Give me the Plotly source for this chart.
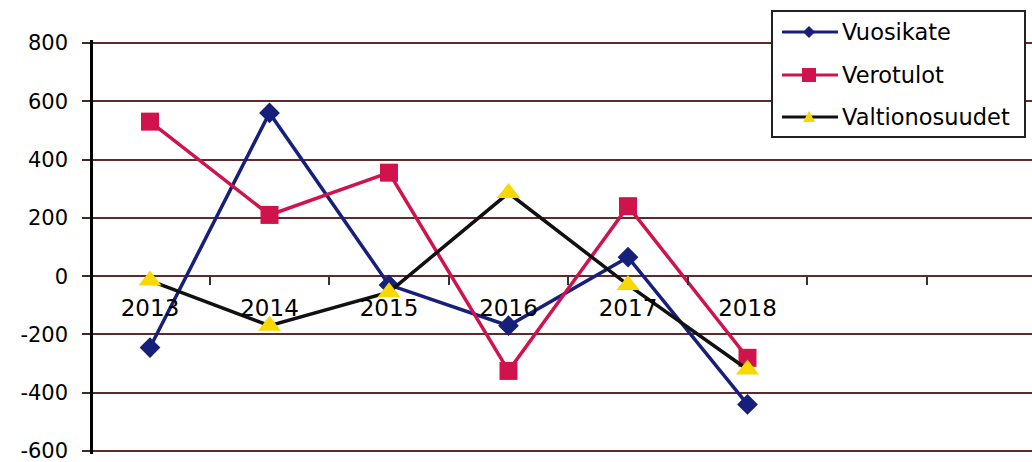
import plotly.graph_objects as go

years = [2013, 2014, 2015, 2016, 2017, 2018]
vuosikate = [-245, 560, -30, -170, 65, -440]
verotulot = [530, 210, 355, -325, 240, -280]
valtionosuudet = [-15, -170, -55, 285, -30, -320]

y_ticks = [-600, -400, -200, 0, 200, 400, 600, 800]
y_tick_text = ["-600", "-400", "-200", "0", "200", "400", "600", "800"]
boundaries = [y + 0.5 for y in range(2012, 2021)]

FONT = "DejaVu Sans, Liberation Sans, Arial, sans-serif"
GRID = "#5e2a2a"

BLUE = "#16207a"
RED = "#d0134c"
BLACK = "#111111"
YELLOW = "#f7d800"

# plot-area geometry in pixels
L, T, W, H = 93, 40, 939, 414
PX_PER_YEAR = 119.5
X0 = 2013 - 57 / PX_PER_YEAR
Y_RANGE = [-610, 810]


def px(x):
    return (x - L) / W


def py(y):
    return 1 - (y - T) / H


series = [
    ("Vuosikate", vuosikate, BLUE, "diamond", 16, BLUE),
    ("Verotulot", verotulot, RED, "square", 18, RED),
    ("Valtionosuudet", valtionosuudet, BLACK, "triangle-up", 20, YELLOW),
]

fig = go.Figure()
for name, vals, lc, sym, size, mc in series:
    fig.add_trace(go.Scatter(
        x=years, y=vals, name=name, mode="lines+markers",
        line=dict(color=lc, width=3.5),
        marker=dict(symbol=sym, size=size, color=mc),
    ))

# legend box drawn in paper space
shapes = [dict(
    type="rect", xref="paper", yref="paper", layer="above",
    x0=px(772), x1=px(1025), y0=py(11), y1=py(137),
    line=dict(color="#222222", width=2), fillcolor="white",
)]
annotations = []
legend_rows = [32, 75, 117]
for (name, vals, lc, sym, size, mc), ry in zip(series, legend_rows):
    shapes.append(dict(
        type="line", xref="paper", yref="paper", layer="above",
        x0=px(782), x1=px(838), y0=py(ry), y1=py(ry),
        line=dict(color=lc, width=3),
    ))
    if sym == "diamond":
        path = "M0,-6 L6,0 L0,6 L-6,0 Z"
    elif sym == "square":
        path = "M-7,-7 L7,-7 L7,7 L-7,7 Z"
    else:
        path = "M0,6 L6,-5 L-6,-5 Z"
    shapes.append(dict(
        type="path", xref="paper", yref="paper", layer="above",
        xsizemode="pixel", ysizemode="pixel",
        xanchor=px(809), yanchor=py(ry), path=path,
        fillcolor=mc, line=dict(color=mc, width=0),
    ))
    annotations.append(dict(
        xref="paper", yref="paper", x=px(840), y=py(ry),
        xanchor="left", yanchor="middle", showarrow=False,
        text=name, font=dict(family=FONT, size=22.5, color="black"),
    ))

fig.update_layout(
    width=1032, height=462,
    margin=dict(l=L, r=1032 - L - W, t=T, b=462 - T - H, autoexpand=False),
    paper_bgcolor="white", plot_bgcolor="white",
    font=dict(family=FONT, size=22, color="black"),
    showlegend=False,
    shapes=shapes,
    annotations=annotations,
    xaxis=dict(
        type="linear", range=[X0, X0 + W / PX_PER_YEAR], automargin=False,
        tickvals=years, ticktext=[str(y) for y in years],
        tickfont=dict(size=23),
        ticks="", showgrid=False, zeroline=False, showline=False,
        anchor="free", position=(0 - Y_RANGE[0]) / (Y_RANGE[1] - Y_RANGE[0]),
        ticklabelstandoff=16,
        minor=dict(tickvals=boundaries, ticks="outside", ticklen=8,
                   tickcolor="#333333", tickwidth=1.5, showgrid=False),
    ),
    yaxis=dict(
        range=Y_RANGE, tickvals=y_ticks, ticktext=y_tick_text, automargin=False,
        tickfont=dict(size=21),
        showgrid=True, gridcolor=GRID, gridwidth=2,
        zeroline=False,
        showline=True, linecolor="black", linewidth=2.5,
        ticks="outside", ticklen=8, tickcolor="#3a2a2a", tickwidth=2,
        ticklabelstandoff=10, ticklabeloverflow="allow",
    ),
)

fig.write_html("out.html")
